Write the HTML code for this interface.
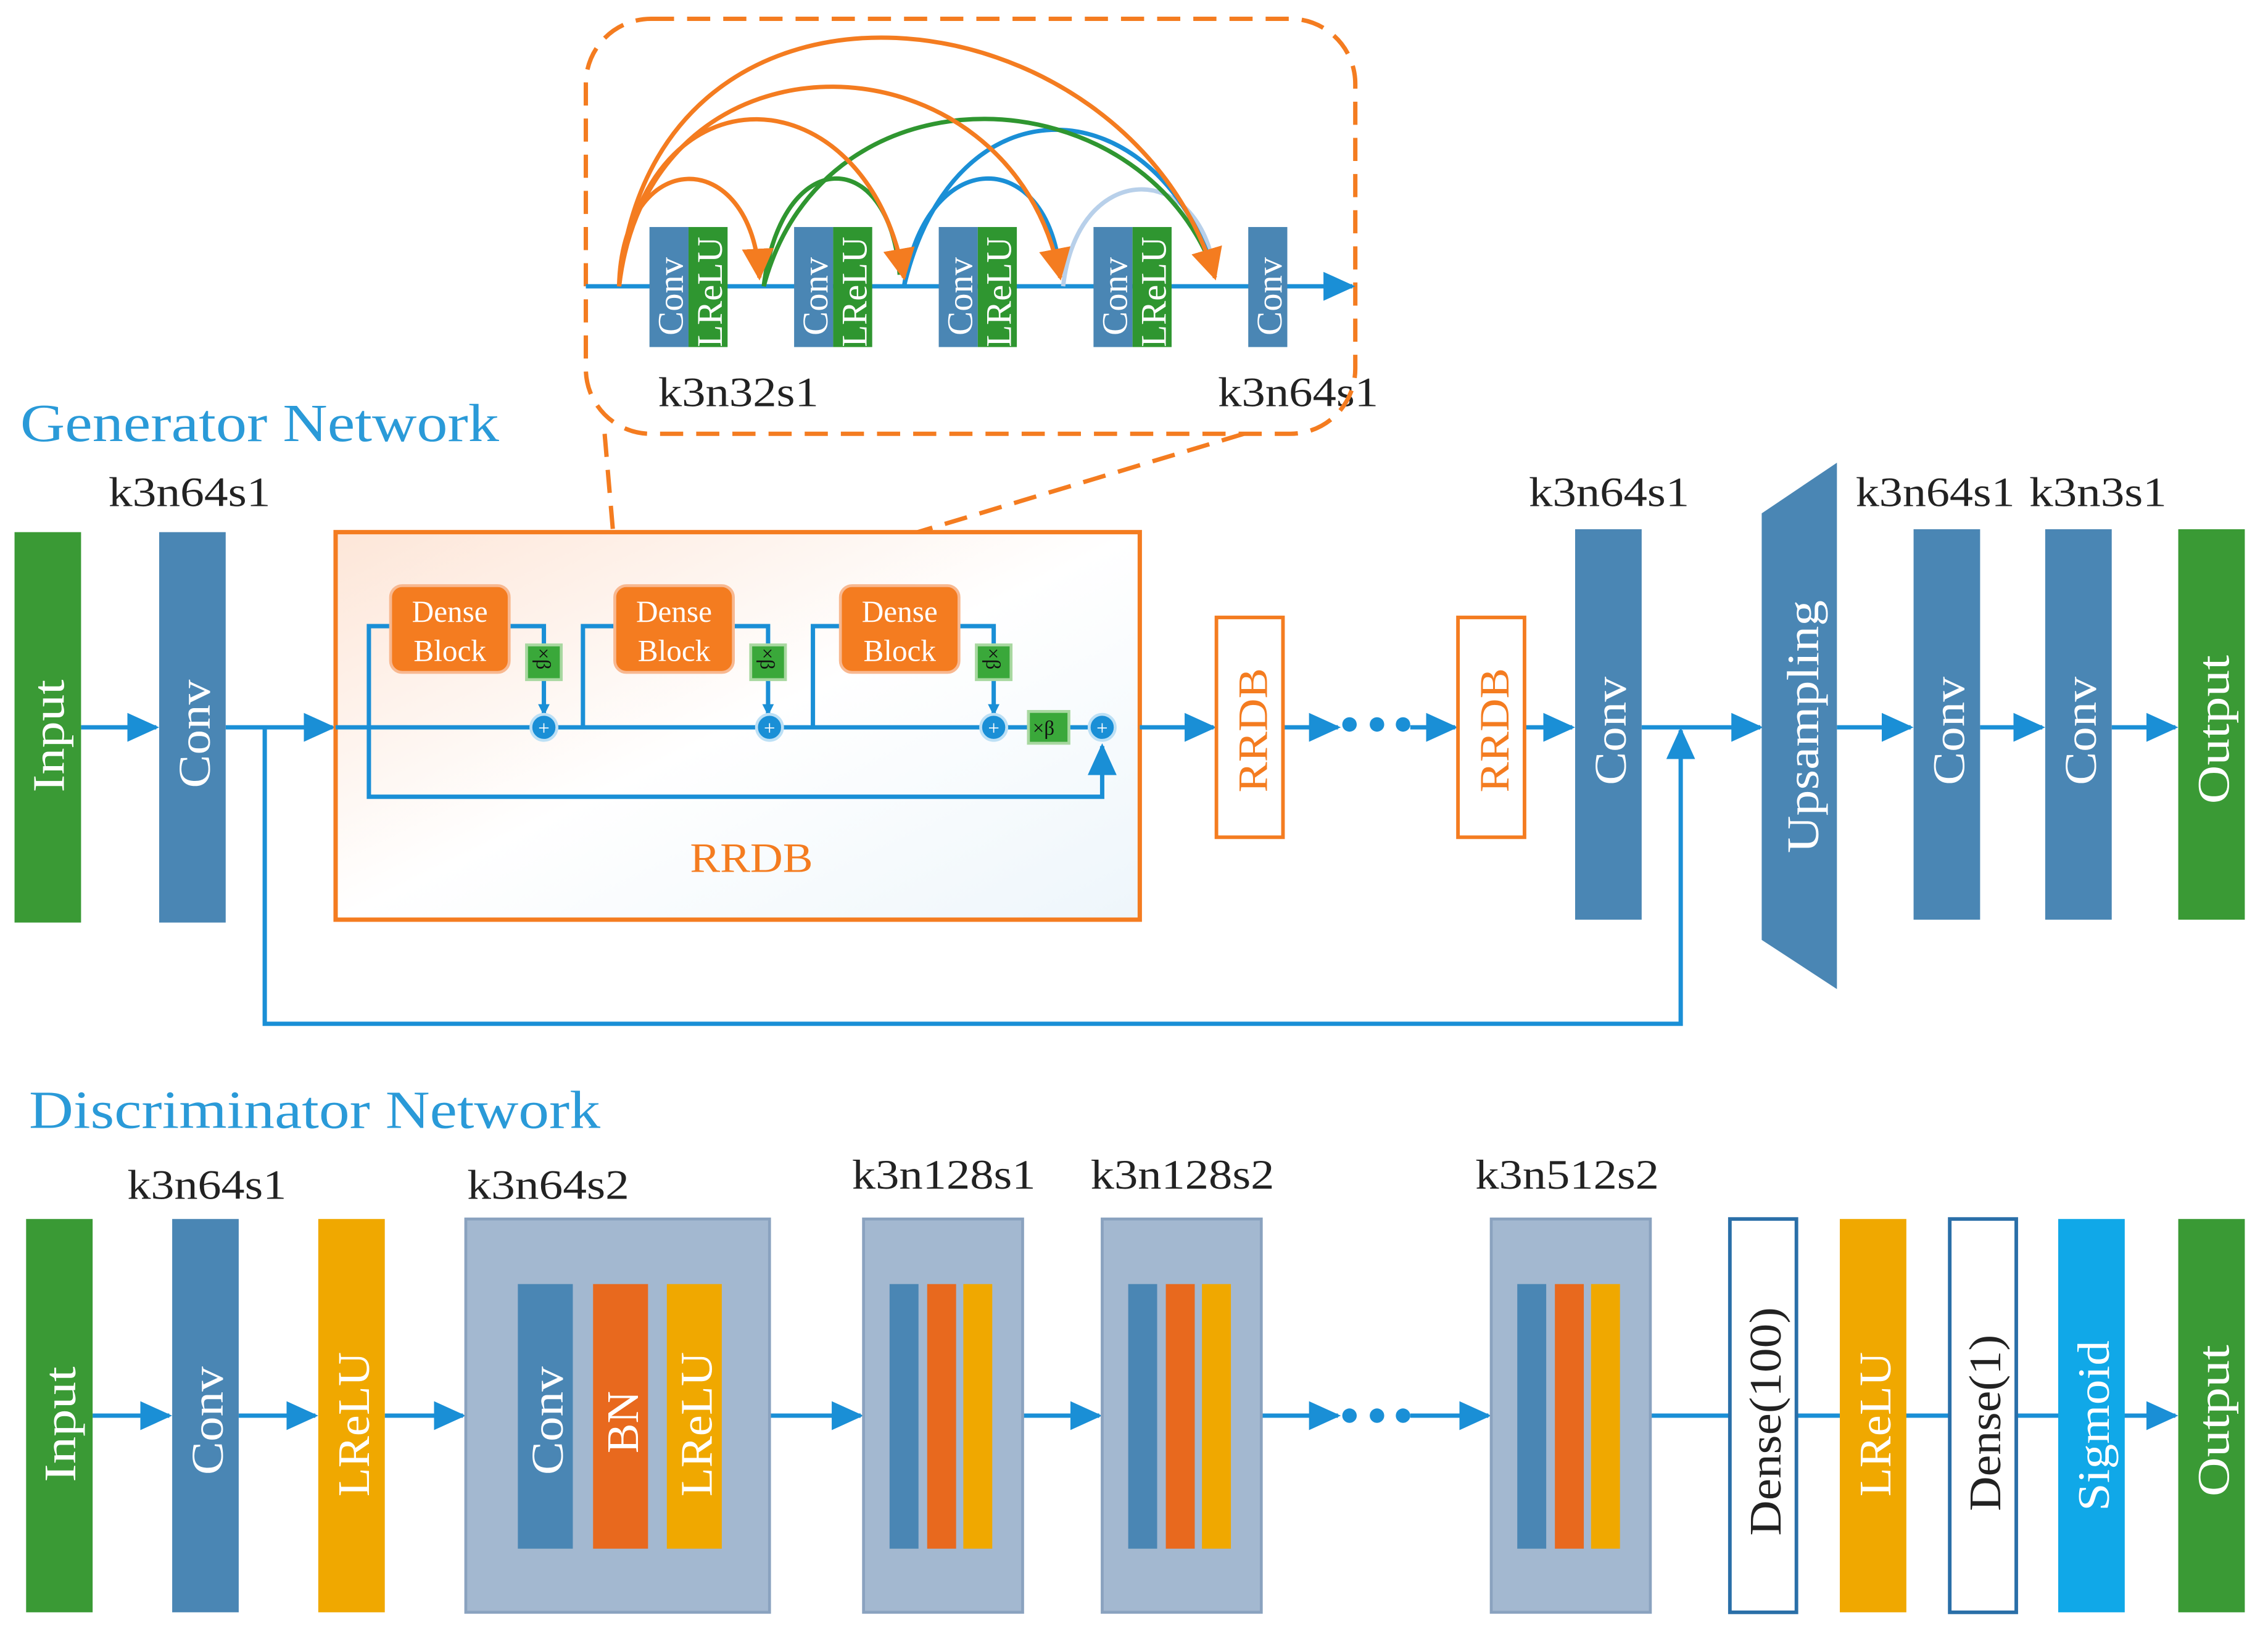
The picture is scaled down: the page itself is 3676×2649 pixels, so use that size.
<!DOCTYPE html>
<html><head><meta charset="utf-8"><style>
html,body{margin:0;padding:0;background:#fff}
svg{display:block}
text{font-family:"Liberation Serif",serif}
</style></head><body>
<svg width="3676" height="2649" viewBox="0 0 1568 1130" xmlns="http://www.w3.org/2000/svg">
<defs>
<marker id="a" markerWidth="8" markerHeight="8" refX="7" refY="4" orient="auto" markerUnits="userSpaceOnUse" viewBox="0 0 8 8"><path d="M0,0 L8,4 L0,8z" fill="#1a8fd6"/></marker>
<marker id="ab" markerWidth="22" markerHeight="20" refX="20" refY="10" orient="auto" markerUnits="userSpaceOnUse"><path d="M0,0 L22,10 L0,20z" fill="#1a8fd6"/></marker>
<marker id="ao" markerWidth="22" markerHeight="22" refX="20" refY="11" orient="auto" markerUnits="userSpaceOnUse"><path d="M0,0 L22,11 L0,22z" fill="#f47c20"/></marker>
<linearGradient id="rg" x1="0" y1="0" x2="1" y2="1"><stop offset="0" stop-color="#fde6d8"/><stop offset="0.5" stop-color="#fff"/><stop offset="1" stop-color="#eef6fb"/></linearGradient>
</defs>
<g font-size="29" fill="#222" lengthAdjust="spacingAndGlyphs">
<text x="14" y="305" font-size="37" fill="#2a9ad8" textLength="331" lengthAdjust="spacingAndGlyphs">Generator Network</text>
<text x="20" y="780" font-size="37" fill="#2a9ad8" textLength="395" lengthAdjust="spacingAndGlyphs">Discriminator Network</text>
<text x="75" y="350" textLength="112" lengthAdjust="spacingAndGlyphs">k3n64s1</text>
<text x="1057" y="350" textLength="111" lengthAdjust="spacingAndGlyphs">k3n64s1</text>
<text x="1283" y="350" textLength="110" lengthAdjust="spacingAndGlyphs">k3n64s1</text>
<text x="1403" y="350" textLength="95" lengthAdjust="spacingAndGlyphs">k3n3s1</text>
<text x="455" y="281" textLength="111" lengthAdjust="spacingAndGlyphs">k3n32s1</text>
<text x="842" y="281" textLength="111" lengthAdjust="spacingAndGlyphs">k3n64s1</text>
<text x="88" y="829" textLength="110" lengthAdjust="spacingAndGlyphs">k3n64s1</text>
<text x="323" y="829" textLength="112" lengthAdjust="spacingAndGlyphs">k3n64s2</text>
<text x="589" y="822" textLength="127" lengthAdjust="spacingAndGlyphs">k3n128s1</text>
<text x="754" y="822" textLength="127" lengthAdjust="spacingAndGlyphs">k3n128s2</text>
<text x="1020" y="822" textLength="127" lengthAdjust="spacingAndGlyphs">k3n512s2</text>
</g>

<!-- inset -->
<rect x="405" y="13" width="532" height="287" rx="45" fill="none" stroke="#f47c20" stroke-width="3" stroke-dasharray="16,9"/>
<line x1="418" y1="300" x2="427" y2="405" stroke="#f47c20" stroke-width="3" stroke-dasharray="16,9"/>
<line x1="860" y1="300" x2="505" y2="407" stroke="#f47c20" stroke-width="3" stroke-dasharray="16,9"/>
<line x1="405" y1="198" x2="935" y2="198" stroke="#1a8fd6" stroke-width="3" marker-end="url(#ab)"/>
<g fill="#4a86b4"><rect x="449" y="157" width="27" height="83"/><rect x="549" y="157" width="27" height="83"/><rect x="649" y="157" width="27" height="83"/><rect x="756" y="157" width="27" height="83"/><rect x="863" y="157" width="27" height="83"/></g>
<g fill="#2f9630"><rect x="476" y="157" width="27" height="83"/><rect x="576" y="157" width="27" height="83"/><rect x="676" y="157" width="27" height="83"/><rect x="783" y="157" width="27" height="83"/></g>
<g fill="#fff" font-size="25">
<text transform="translate(472,232) rotate(-90)">Conv</text><text transform="translate(499,240) rotate(-90)">LReLU</text>
<text transform="translate(572,232) rotate(-90)">Conv</text><text transform="translate(599,240) rotate(-90)">LReLU</text>
<text transform="translate(672,232) rotate(-90)">Conv</text><text transform="translate(699,240) rotate(-90)">LReLU</text>
<text transform="translate(779,232) rotate(-90)">Conv</text><text transform="translate(806,240) rotate(-90)">LReLU</text>
<text transform="translate(886,232) rotate(-90)">Conv</text>
</g>
<g fill="none" stroke-width="3">
<path d="M735 198 C745 110,830 110,840 190" stroke="#b8d0ea"/>
<path d="M625 198 C640 100,725 100,733 190" stroke="#1a8fd6"/>
<path d="M625 198 C660 50,800 60,840 190" stroke="#1a8fd6"/>
<path d="M528 198 C540 100,615 100,622 190" stroke="#2f9630"/>
<path d="M528 198 C570 40,790 50,840 190" stroke="#2f9630"/>
<path d="M428 198 C430 100,520 100,525 192" stroke="#f47c20" marker-end="url(#ao)"/>
<path d="M428 198 C445 40,600 50,625 192" stroke="#f47c20" marker-end="url(#ao)"/>
<path d="M428 198 C450 10,700 20,733 192" stroke="#f47c20" marker-end="url(#ao)"/>
<path d="M428 198 C450 -50,780 -10,840 192" stroke="#f47c20" marker-end="url(#ao)"/>
</g>

<!-- generator -->
<g stroke="#1a8fd6" stroke-width="3" fill="none">
<line x1="56" y1="503" x2="108" y2="503" marker-end="url(#ab)"/>
<line x1="156" y1="503" x2="230" y2="503" marker-end="url(#ab)"/>
<path d="M183 503 V708 H1162 V505" marker-end="url(#ab)"/>
</g>
<rect x="232" y="368" width="556" height="268" fill="url(#rg)" stroke="#f47c20" stroke-width="3"/>
<text x="477" y="603" font-size="29" fill="#f47c20" textLength="85" lengthAdjust="spacingAndGlyphs">RRDB</text>
<g stroke="#1a8fd6" stroke-width="3" fill="none">
<line x1="232" y1="503" x2="752" y2="503"/>
<path d="M255 503 V433 H270"/><path d="M352 433 H376 V445"/><line x1="376" y1="470" x2="376" y2="494" marker-end="url(#a)"/>
<path d="M403 503 V433 H425"/><path d="M507 433 H531 V445"/><line x1="531" y1="470" x2="531" y2="494" marker-end="url(#a)"/>
<path d="M562 503 V433 H581"/><path d="M663 433 H687 V445"/><line x1="687" y1="470" x2="687" y2="494" marker-end="url(#a)"/>
<path d="M255 503 V551 H762 V516" marker-end="url(#ab)"/>
<line x1="788" y1="503" x2="839" y2="503" marker-end="url(#ab)"/>
<line x1="887" y1="503" x2="925" y2="503" marker-end="url(#ab)"/>
<line x1="975" y1="503" x2="1006" y2="503" marker-end="url(#ab)"/>
<line x1="1054" y1="503" x2="1087" y2="503" marker-end="url(#ab)"/>
<line x1="1135" y1="503" x2="1217" y2="503" marker-end="url(#ab)"/>
<line x1="1270" y1="503" x2="1321" y2="503" marker-end="url(#ab)"/>
<line x1="1369" y1="503" x2="1412" y2="503" marker-end="url(#ab)"/>
<line x1="1460" y1="503" x2="1504" y2="503" marker-end="url(#ab)"/>
</g>
<g fill="#f47c20" stroke="#f8b890" stroke-width="2"><rect x="270" y="405" width="82" height="60" rx="8"/><rect x="425" y="405" width="82" height="60" rx="8"/><rect x="581" y="405" width="82" height="60" rx="8"/></g>
<g fill="#fff" font-size="21" text-anchor="middle">
<text x="311" y="430">Dense</text><text x="311" y="457">Block</text>
<text x="466" y="430">Dense</text><text x="466" y="457">Block</text>
<text x="622" y="430">Dense</text><text x="622" y="457">Block</text>
</g>
<g fill="#3aa83a" stroke="#a8d8a0" stroke-width="2"><rect x="364" y="446" width="24" height="24"/><rect x="519" y="446" width="24" height="24"/><rect x="675" y="446" width="24" height="24"/><rect x="711" y="492" width="28" height="22"/></g>
<g font-size="14" fill="#111"><text transform="translate(371,448) rotate(90)">×β</text><text transform="translate(526,448) rotate(90)">×β</text><text transform="translate(682,448) rotate(90)">×β</text><text x="714" y="508">×β</text></g>
<g fill="#1a8fd6" stroke="#bde0f5" stroke-width="2"><circle cx="376" cy="503" r="9"/><circle cx="532" cy="503" r="9"/><circle cx="687" cy="503" r="9"/><circle cx="762" cy="503" r="9"/></g>
<g fill="#fff" font-size="14" text-anchor="middle"><text x="376" y="508">+</text><text x="532" y="508">+</text><text x="687" y="508">+</text><text x="762" y="508">+</text></g>
<g fill="#fff" stroke="#f47c20" stroke-width="2.5"><rect x="841" y="427" width="46" height="152"/><rect x="1008" y="427" width="46" height="152"/></g>
<g fill="#f47c20" font-size="29"><text transform="translate(876,548) rotate(-90)" textLength="86" lengthAdjust="spacingAndGlyphs">RRDB</text><text transform="translate(1043,548) rotate(-90)" textLength="86" lengthAdjust="spacingAndGlyphs">RRDB</text></g>
<g fill="#1a8fd6"><circle cx="933" cy="501" r="5"/><circle cx="952" cy="501" r="5"/><circle cx="970" cy="501" r="5"/><circle cx="933" cy="979" r="5"/><circle cx="952" cy="979" r="5"/><circle cx="970" cy="979" r="5"/></g>
<rect x="10" y="368" width="46" height="270" fill="#3a9a35"/>
<rect x="110" y="368" width="46" height="270" fill="#4a86b4"/>
<rect x="1089" y="366" width="46" height="270" fill="#4a86b4"/>
<polygon points="1218,355 1270,320 1270,684 1218,650" fill="#4a86b4"/>
<rect x="1323" y="366" width="46" height="270" fill="#4a86b4"/>
<rect x="1414" y="366" width="46" height="270" fill="#4a86b4"/>
<rect x="1506" y="366" width="46" height="270" fill="#3a9a35"/>
<g fill="#fff" font-size="31">
<text transform="translate(44,548) rotate(-90)" textLength="78" lengthAdjust="spacingAndGlyphs">Input</text>
<text transform="translate(145,545) rotate(-90)" textLength="75" lengthAdjust="spacingAndGlyphs">Conv</text>
<text transform="translate(1124,543) rotate(-90)" textLength="75" lengthAdjust="spacingAndGlyphs">Conv</text>
<text transform="translate(1257,590) rotate(-90)" textLength="175" lengthAdjust="spacingAndGlyphs">Upsampling</text>
<text transform="translate(1358,543) rotate(-90)" textLength="75" lengthAdjust="spacingAndGlyphs">Conv</text>
<text transform="translate(1449,543) rotate(-90)" textLength="75" lengthAdjust="spacingAndGlyphs">Conv</text>
<text transform="translate(1541,556) rotate(-90)" textLength="103" lengthAdjust="spacingAndGlyphs">Output</text>
</g>

<!-- discriminator -->
<g stroke="#1a8fd6" stroke-width="3" fill="none">
<line x1="64" y1="979" x2="117" y2="979" marker-end="url(#ab)"/>
<line x1="165" y1="979" x2="218" y2="979" marker-end="url(#ab)"/>
<line x1="266" y1="979" x2="320" y2="979" marker-end="url(#ab)"/>
<line x1="532" y1="979" x2="595" y2="979" marker-end="url(#ab)"/>
<line x1="707" y1="979" x2="760" y2="979" marker-end="url(#ab)"/>
<line x1="872" y1="979" x2="925" y2="979" marker-end="url(#ab)"/>
<line x1="975" y1="979" x2="1029" y2="979" marker-end="url(#ab)"/>
<line x1="1141" y1="979" x2="1504" y2="979" marker-end="url(#ab)"/>
</g>
<rect x="18" y="843" width="46" height="272" fill="#3a9a35"/>
<rect x="119" y="843" width="46" height="272" fill="#4a86b4"/>
<rect x="220" y="843" width="46" height="272" fill="#f0a800"/>
<g fill="#a3b8d0" stroke="#8aa2bf" stroke-width="2">
<rect x="322" y="843" width="210" height="272"/><rect x="597" y="843" width="110" height="272"/><rect x="762" y="843" width="110" height="272"/><rect x="1031" y="843" width="110" height="272"/></g>
<rect x="358" y="888" width="38" height="183" fill="#4a86b4"/><rect x="410" y="888" width="38" height="183" fill="#e8691e"/><rect x="461" y="888" width="38" height="183" fill="#f0a800"/>
<g><rect x="615" y="888" width="20" height="183" fill="#4a86b4"/><rect x="641" y="888" width="20" height="183" fill="#e8691e"/><rect x="666" y="888" width="20" height="183" fill="#f0a800"/>
<rect x="780" y="888" width="20" height="183" fill="#4a86b4"/><rect x="806" y="888" width="20" height="183" fill="#e8691e"/><rect x="831" y="888" width="20" height="183" fill="#f0a800"/>
<rect x="1049" y="888" width="20" height="183" fill="#4a86b4"/><rect x="1075" y="888" width="20" height="183" fill="#e8691e"/><rect x="1100" y="888" width="20" height="183" fill="#f0a800"/></g>
<rect x="1196" y="843" width="46" height="272" fill="#fff" stroke="#2a6fa8" stroke-width="2.5"/>
<rect x="1272" y="843" width="46" height="272" fill="#f0a800"/>
<rect x="1348" y="843" width="46" height="272" fill="#fff" stroke="#2a6fa8" stroke-width="2.5"/>
<rect x="1423" y="843" width="46" height="272" fill="#10a8e8"/>
<rect x="1506" y="843" width="46" height="272" fill="#3a9a35"/>
<g fill="#fff" font-size="31">
<text transform="translate(52,1025) rotate(-90)" textLength="80" lengthAdjust="spacingAndGlyphs">Input</text>
<text transform="translate(154,1020) rotate(-90)" textLength="75" lengthAdjust="spacingAndGlyphs">Conv</text>
<text transform="translate(255,1035) rotate(-90)" textLength="100" lengthAdjust="spacingAndGlyphs">LReLU</text>
<text transform="translate(389,1020) rotate(-90)" textLength="75" lengthAdjust="spacingAndGlyphs">Conv</text>
<text transform="translate(441,1005) rotate(-90)">BN</text>
<text transform="translate(492,1035) rotate(-90)" textLength="100" lengthAdjust="spacingAndGlyphs">LReLU</text>
<text transform="translate(1307,1035) rotate(-90)" textLength="100" lengthAdjust="spacingAndGlyphs">LReLU</text>
<text transform="translate(1458,1045) rotate(-90)" textLength="118" lengthAdjust="spacingAndGlyphs">Sigmoid</text>
<text transform="translate(1541,1035) rotate(-90)" textLength="105" lengthAdjust="spacingAndGlyphs">Output</text>
</g>
<g fill="#222" font-size="31">
<text transform="translate(1231,1062) rotate(-90)" textLength="158" lengthAdjust="spacingAndGlyphs">Dense(100)</text>
<text transform="translate(1383,1045) rotate(-90)" textLength="122" lengthAdjust="spacingAndGlyphs">Dense(1)</text>
</g>
</svg>
</body></html>
